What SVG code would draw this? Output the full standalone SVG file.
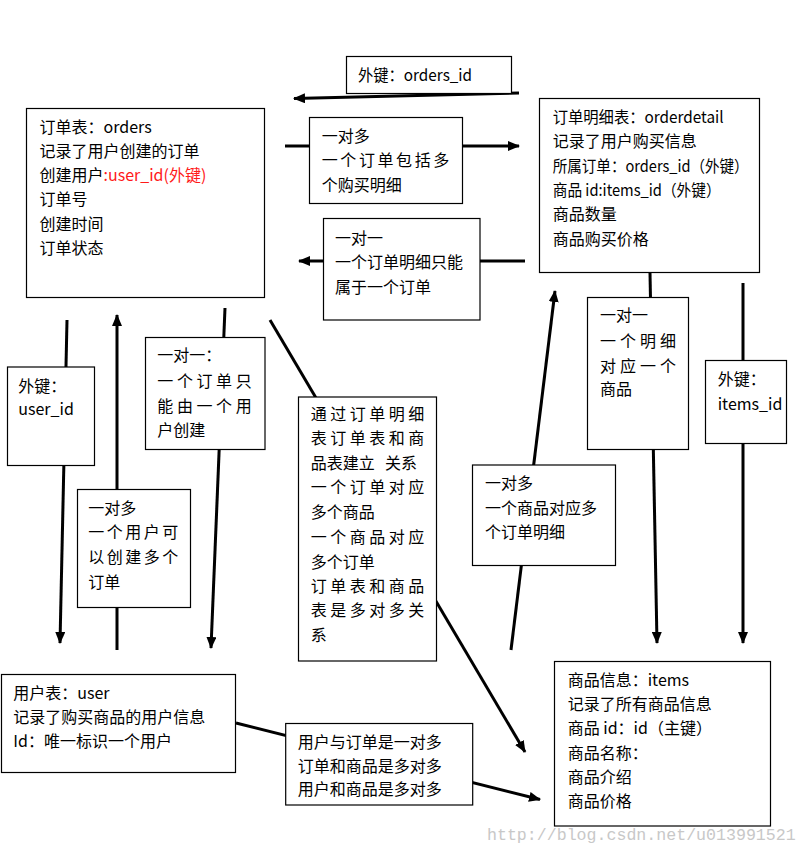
<svg xmlns="http://www.w3.org/2000/svg" width="809" height="855" viewBox="0 0 809 855">
<style>
text{font-family:"Noto Sans CJK SC","Noto Sans",sans-serif;font-size:16px;fill:#000}
.box{fill:#fff;stroke:#000;stroke-width:1.2}
.ln{stroke:#000;stroke-width:3;fill:none}
.red{fill:#ff1a1a}
.wm{font-family:"Liberation Mono",monospace;font-size:16.6px;fill:#c8c8c8}
</style>
<defs>
<marker id="ah" markerUnits="userSpaceOnUse" markerWidth="12" markerHeight="10" refX="11" refY="5" orient="auto">
<path d="M0,0 L12,5 L0,10 z" fill="#000"/>
</marker>
</defs>
<rect width="809" height="855" fill="#fff"/>
<g id="connectors">
<line class="ln" x1="519" y1="93" x2="294" y2="98.5" marker-end="url(#ah)"/>
<line class="ln" x1="285" y1="146" x2="519" y2="146" marker-end="url(#ah)"/>
<line class="ln" x1="525" y1="261" x2="299" y2="261" marker-end="url(#ah)"/>
<line class="ln" x1="67" y1="320" x2="60" y2="643" marker-end="url(#ah)"/>
<line class="ln" x1="117" y1="650" x2="117" y2="315" marker-end="url(#ah)"/>
<line class="ln" x1="225" y1="308" x2="211" y2="648" marker-end="url(#ah)"/>
<line class="ln" x1="270" y1="320" x2="525" y2="752" marker-end="url(#ah)"/>
<line class="ln" x1="511" y1="650" x2="555" y2="291" marker-end="url(#ah)"/>
<line class="ln" x1="650" y1="273" x2="657" y2="643" marker-end="url(#ah)"/>
<line class="ln" x1="743" y1="283" x2="743" y2="643" marker-end="url(#ah)"/>
<line class="ln" x1="236" y1="723" x2="540" y2="799.5" marker-end="url(#ah)"/>
</g>
<g id="orders">
<rect class="box" x="26.5" y="108.5" width="238" height="189"/>
<text x="39.5" y="133">订单表：orders</text>
<text x="39.5" y="157">记录了用户创建的订单</text>
<text x="39.5" y="181">创建用户<tspan class="red">:user_id(外键)</tspan></text>
<text x="39.5" y="205">订单号</text>
<text x="39.5" y="229.5">创建时间</text>
<text x="39.5" y="254">订单状态</text>
</g>
<g id="fk-orders-id">
<rect class="box" x="346.5" y="56.5" width="165" height="37"/>
<text x="358" y="81" textLength="114" lengthAdjust="spacingAndGlyphs">外键：orders_id</text>
</g>
<g id="rel-orders-detail">
<rect class="box" x="309.5" y="117.5" width="153" height="86"/>
<text x="321.7" y="142">一对多</text>
<text x="321.7" y="166" letter-spacing="2.6">一个订单包括多</text>
<text x="321.7" y="191">个购买明细</text>
</g>
<g id="rel-detail-orders">
<rect class="box" x="323.5" y="218.5" width="156.5" height="101.5"/>
<text x="335" y="244">一对一</text>
<text x="335" y="268">一个订单明细只能</text>
<text x="335" y="293">属于一个订单</text>
</g>
<g id="orderdetail">
<rect class="box" x="539.5" y="98.5" width="220" height="174"/>
<text x="552.7" y="123" textLength="171" lengthAdjust="spacingAndGlyphs">订单明细表：orderdetail</text>
<text x="552.7" y="147">记录了用户购买信息</text>
<text x="552.7" y="172" textLength="196" lengthAdjust="spacingAndGlyphs">所属订单：orders_id（外键）</text>
<text x="552.7" y="196" textLength="168" lengthAdjust="spacingAndGlyphs">商品 id:items_id（外键）</text>
<text x="552.7" y="220">商品数量</text>
<text x="552.7" y="245">商品购买价格</text>
</g>
<g id="fk-user-id">
<rect class="box" x="7.5" y="367" width="87" height="98.5"/>
<text x="18.3" y="392">外键：</text>
<text x="18.3" y="415">user_id</text>
</g>
<g id="rel-user-orders">
<rect class="box" x="77.5" y="489.5" width="113" height="118"/>
<text x="88.3" y="514">一对多</text>
<text x="88.3" y="538" letter-spacing="2.5">一个用户可</text>
<text x="88.3" y="563" letter-spacing="2.5">以创建多个</text>
<text x="88.3" y="588">订单</text>
</g>
<g id="rel-orders-user">
<rect class="box" x="145.5" y="337.5" width="119.5" height="112"/>
<text x="157.3" y="361">一对一：</text>
<text x="157.3" y="387" letter-spacing="3.6">一个订单只</text>
<text x="157.3" y="412" letter-spacing="3.6">能由一个用</text>
<text x="157.3" y="436">户创建</text>
</g>
<g id="many-to-many">
<rect class="box" x="298.5" y="397" width="138" height="264"/>
<text x="310.7" y="420" letter-spacing="3.5">通过订单明细</text>
<text x="310.7" y="444" letter-spacing="3.5">表订单表和商</text>
<text x="310.7" y="469">品表建立 <tspan x="385">关系</tspan></text>
<text x="310.7" y="493" letter-spacing="3.5">一个订单对应</text>
<text x="310.7" y="518">多个商品</text>
<text x="310.7" y="543" letter-spacing="3.5">一个商品对应</text>
<text x="310.7" y="568">多个订单</text>
<text x="310.7" y="592" letter-spacing="3.5">订单表和商品</text>
<text x="310.7" y="616" letter-spacing="3.5">表是多对多关</text>
<text x="310.7" y="641">系</text>
</g>
<g id="rel-items-detail">
<rect class="box" x="472.5" y="465" width="143" height="100.5"/>
<text x="485" y="489">一对多</text>
<text x="485" y="514">一个商品对应多</text>
<text x="485" y="538">个订单明细</text>
</g>
<g id="rel-detail-items">
<rect class="box" x="587.5" y="297.5" width="101" height="152"/>
<text x="600" y="321">一对一</text>
<text x="600" y="347" letter-spacing="4">一个明细</text>
<text x="600" y="372" letter-spacing="4">对应一个</text>
<text x="600" y="395">商品</text>
</g>
<g id="fk-items-id">
<rect class="box" x="705.5" y="360.5" width="81" height="83"/>
<text x="717.7" y="385">外键：</text>
<text x="717.7" y="410">items_id</text>
</g>
<g id="user">
<rect class="box" x="1.5" y="674.5" width="234" height="98"/>
<text x="13.3" y="699">用户表：user</text>
<text x="13.3" y="723">记录了购买商品的用户信息</text>
<text x="13.3" y="747">Id：唯一标识一个用户</text>
</g>
<g id="summary">
<rect class="box" x="285.7" y="723.5" width="187" height="81.5"/>
<text x="297.7" y="748">用户与订单是一对多</text>
<text x="297.7" y="772">订单和商品是多对多</text>
<text x="297.7" y="795">用户和商品是多对多</text>
</g>
<g id="items">
<rect class="box" x="554.5" y="661.5" width="216" height="164.5"/>
<text x="567.7" y="686">商品信息：items</text>
<text x="567.7" y="710">记录了所有商品信息</text>
<text x="567.7" y="734">商品 id：id（主键）</text>
<text x="567.7" y="759">商品名称：</text>
<text x="567.7" y="783">商品介绍</text>
<text x="567.7" y="807">商品价格</text>
</g>
<text class="wm" x="487" y="840">http://blog.csdn.net/u013991521</text>
</svg>
